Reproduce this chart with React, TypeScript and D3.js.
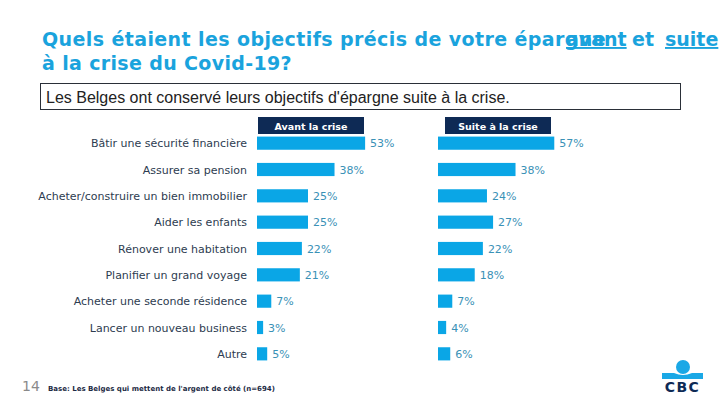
import React from "react";
import * as d3 from "d3";

const categories = [
  "Bâtir une sécurité financière",
  "Assurer sa pension",
  "Acheter/construire un bien immobilier",
  "Aider les enfants",
  "Rénover une habitation",
  "Planifier un grand voyage",
  "Acheter une seconde résidence",
  "Lancer un nouveau business",
  "Autre",
];
const avantValues = [53, 38, 25, 25, 22, 21, 7, 3, 5];
const suiteValues = [57, 38, 24, 27, 22, 18, 7, 4, 6];
const seriesNames = ["Avant la crise", "Suite à la crise"];

const W = 720;
const H = 405;
const BAR = "#0aa6e6";
const NAVY = "#0e2a55";
const TITLE = "#1aa3dd";
const LABEL = "#2d3c50";
const VALUE = "#3a91b6";

export default function App() {
  const y = d3.scaleBand<string>().domain(categories).range([130, 367]).paddingInner(0.5).paddingOuter(0.25);
  const xLeft = d3.scaleLinear().domain([0, 100]).range([257, 461]);
  const xRight = d3.scaleLinear().domain([0, 100]).range([438, 642]);
  const series = [
    { name: seriesNames[0], values: avantValues, x: xLeft, hx: 258 },
    { name: seriesNames[1], values: suiteValues, x: xRight, hx: 445 },
  ];
  const font = "'DejaVu Sans', Verdana, sans-serif";
  return (
    <svg width={W} height={H} style={{ position: "absolute", left: 0, top: 0, background: "#fff" }}>
      <rect x={0} y={0} width={W} height={H} fill="#fff" />
      {/* Title */}
      <g fontFamily={font} fontWeight="bold" fontSize={19} fill={TITLE}>
        <text x={42} y={46} letterSpacing={0.4}>Quels étaient les objectifs précis de votre épargne</text>
        <text x={566} y={46} textDecoration="underline">avant</text>
        <text x={632} y={46}>et</text>
        <text x={665} y={46} textDecoration="underline">suite</text>
        <text x={42} y={70} letterSpacing={0.35}>à la crise du Covid-19?</text>
      </g>
      {/* Subtitle box */}
      <rect x={40.5} y={83.5} width={640} height={26} fill="#fff" stroke="#2a2f38" strokeWidth={1} />
      <text x={46} y={103} fontFamily="'Liberation Sans', Arial, sans-serif" fontSize={16} fill="#222">
        Les Belges ont conservé leurs objectifs d'épargne suite à la crise.
      </text>
      {/* Category labels */}
      <g fontFamily={font} fontSize={11} fill={LABEL} textAnchor="end">
        {categories.map((c) => (
          <text key={c} x={247} y={(y(c) ?? 0) + y.bandwidth() / 2 + 4}>{c}</text>
        ))}
      </g>
      {series.map((s) => (
        <g key={s.name}>
          <rect x={s.hx} y={117} width={106} height={17} fill={NAVY} />
          <text x={s.hx + 53} y={129.5} textAnchor="middle" fontFamily={font} fontWeight="bold" fontSize={9.5} fill="#fff">
            {s.name}
          </text>
          {categories.map((c, i) => (
            <g key={c}>
              <rect x={s.x(0)} y={y(c)} width={s.x(s.values[i]) - s.x(0)} height={y.bandwidth()} fill={BAR} />
              <text x={s.x(s.values[i]) + 5} y={(y(c) ?? 0) + y.bandwidth() / 2 + 4} fontFamily={font} fontSize={11} fill={VALUE}>
                {s.values[i]}%
              </text>
            </g>
          ))}
        </g>
      ))}
      {/* Footer */}
      <text x={22} y={391} fontFamily={font} fontSize={14} fill="#8a8a8a">14</text>
      <text x={48} y={391} fontFamily={font} fontWeight="bold" fontSize={7} fill="#1d2b45">
        Base: Les Belges qui mettent de l'argent de côté (n=694)
      </text>
      {/* Logo */}
      <g>
        <circle cx={683} cy={367} r={7} fill="#1aa8e6" />
        <path d="M662,373 L674,373 Q683,377 692,373 L703,373 L703,379 L662,379 Z" fill="#1aa8e6" />
        <text x={682.5} y={392} textAnchor="middle" fontFamily={font} fontWeight="bold" fontSize={14} fill={NAVY} letterSpacing={1.5}>CBC</text>
      </g>
    </svg>
  );
}
